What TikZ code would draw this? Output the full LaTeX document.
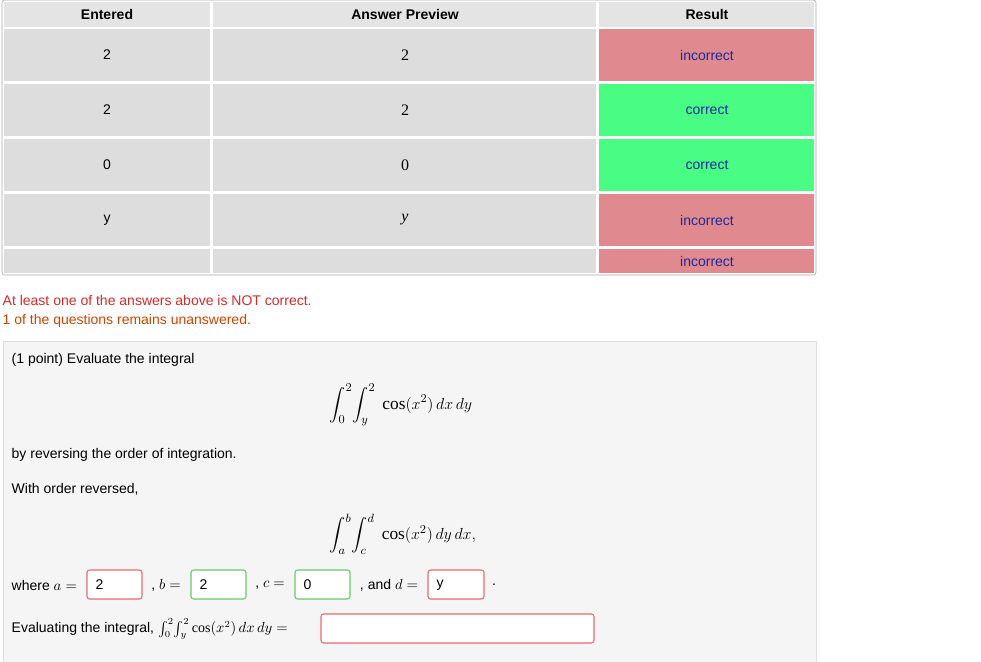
\documentclass[tikz,border=0pt]{standalone}
\usepackage{amsmath}
\usepackage{fontspec}
\setmainfont{Liberation Sans}
\newfontfamily\mathser{Liberation Serif}
\newcommand{\mycos}{\text{\mathser cos}}
\definecolor{hdr}{HTML}{E4E4E4}
\definecolor{cellg}{HTML}{DDDDDD}
\definecolor{bad}{HTML}{E08A8F}
\definecolor{good}{HTML}{48FC84}
\definecolor{res}{HTML}{1A2A9A}
\definecolor{warn}{HTML}{D42A2A}
\definecolor{warn2}{HTML}{CC4400}
\definecolor{probbg}{HTML}{F5F5F5}
\definecolor{redb}{HTML}{E86A70}
\definecolor{greenb}{HTML}{6AC86A}
\tikzset{txt/.style={font=\fontsize{10.5pt}{12pt}\selectfont},
 inbox/.style={draw=#1,fill=white,rounded corners=2pt,line width=0.8pt},
 mth/.style={font=\fontsize{13pt}{15pt}\selectfont},
 prev/.style={font=\mathser\fontsize{12pt}{14pt}\selectfont}}
\begin{document}
\begin{tikzpicture}[x=0.75pt,y=-0.75pt]
\useasboundingbox (0,0) rectangle (981,661);
\draw[draw=gray!70,rounded corners=2pt] (2,0) rectangle (816,275);
\foreach \a/\b in {4/210,213/596,599/814}{\fill[hdr] (\a,2) rectangle (\b,27);}
\node[txt,font=\bfseries\fontsize{10.5pt}{12pt}\selectfont] (h1) at (107,14) {Entered};
\node[txt,font=\bfseries\fontsize{10.5pt}{12pt}\selectfont] (h2) at (405,14) {Answer Preview};
\node[txt,font=\bfseries\fontsize{10.5pt}{12pt}\selectfont] (h3) at (707,14) {Result};
\foreach \t/\bo/\e/\r/\c in {29/81/2/incorrect/bad,84/136/2/correct/good,139/191/0/correct/good,194/246/y/incorrect/bad}{
 \fill[cellg] (4,\t) rectangle (210,\bo);
 \fill[cellg] (213,\t) rectangle (596,\bo);
 \fill[\c] (599,\t) rectangle (814,\bo);
 \node[txt] at (107,{(\t+\bo)/2}) {\e};
 \node[txt,text=res] at (707,{(\t+\bo)/2}) {\r};
}
\node[prev] (pv1) at (405,55) {2};
\node[prev] (pv2) at (405,110) {2};
\node[prev] (pv3) at (405,165) {0};
\node[prev,font=\mathser\itshape\fontsize{12pt}{14pt}\selectfont] (pv4) at (405,220) {y};
\fill[cellg] (4,249) rectangle (210,273);
\fill[cellg] (213,249) rectangle (596,273);
\fill[bad] (599,249) rectangle (814,273);
\node[txt,text=res] (last) at (707,261) {incorrect};
\node[txt,text=warn,anchor=west] (m1) at (-2,300) {At least one of the answers above is NOT correct.};
\node[txt,text=warn2,anchor=west] (m2) at (-2,321) {1 of the questions remains unanswered.};
\draw[draw=gray!25,fill=probbg] (3,341) rectangle (816,665);
\node[txt,anchor=west] (p1) at (7,360) {(1 point) Evaluate the integral};
\node[mth,anchor=west] (i1) at (325,405) {$\displaystyle\int_0^2\!\int_y^2\; \mycos(x^2)\,dx\,dy$};
\node[txt,anchor=west] (p2) at (7,455) {by reversing the order of integration.};
\node[txt,anchor=west] (p3) at (7,489) {With order reversed,};
\node[mth,anchor=west] (i2) at (325,534) {$\displaystyle\int_a^b\!\int_c^d\; \mycos(x^2)\,dy\,dx,$};
\node[txt,anchor=west] (w) at (7,585) {where $a=$};
\draw[inbox=redb] (87,570) rectangle (142,599); \node[txt,anchor=west] (ia) at (91,585) {2};
\node[txt] (lb) at (166,585) {, $b=$};
\draw[inbox=greenb] (191,570) rectangle (246,599); \node[txt,anchor=west] (ib) at (195,585) {2};
\node[txt] (lc) at (270,585) {, $c=$};
\draw[inbox=greenb] (295,570) rectangle (350,599); \node[txt,anchor=west] (ic) at (299,585) {0};
\node[txt] (ld) at (389,585) {, and $d=$};
\draw[inbox=redb] (428,570) rectangle (484,599); \node[txt,anchor=west] (id) at (432,585) {y};
\node[txt] (dot) at (494,585) {.};
\node[txt,anchor=west] (ev) at (7,629) {Evaluating the integral, $\int_0^2\!\int_y^2\mycos(x^2)\,dx\,dy=$};
\draw[inbox=redb] (321,614) rectangle (594,643);
\end{tikzpicture}
\end{document}
